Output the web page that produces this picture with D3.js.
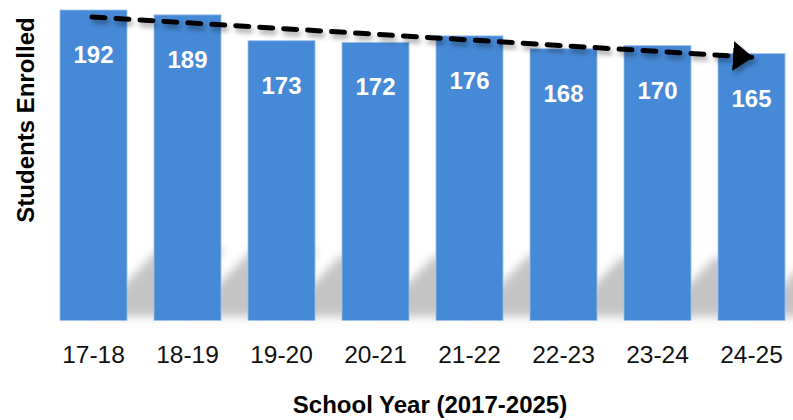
<!DOCTYPE html>
<html>
<head>
<meta charset="utf-8">
<script src="https://cdn.jsdelivr.net/npm/d3@7"></script>
<style>
  body { margin: 0; background: #fff; }
  svg { display: block; }
</style>
</head>
<body>
<div id="chart"></div>
<script>
// chart data
var years = ["17-18", "18-19", "19-20", "20-21", "21-22", "22-23", "23-24", "24-25"];
var enrolled = [192, 189, 173, 172, 176, 168, 170, 165];
var trendFrom = 192;
var trendTo = 165;

var svgWidth = 793;
var svgHeight = 420;
var baseY = 320.5;

var svg = d3.select("#chart")
    .append("svg")
    .attr("width", svgWidth)
    .attr("height", svgHeight);

var defs = svg.append("defs");

defs.append("filter")
    .attr("id", "soft")
    .attr("x", "-50%").attr("y", "-50%")
    .attr("width", "200%").attr("height", "200%")
    .append("feGaussianBlur")
    .attr("stdDeviation", 5);

defs.append("filter")
    .attr("id", "lineShadow")
    .attr("x", "-10%").attr("y", "-100%")
    .attr("width", "120%").attr("height", "300%")
    .append("feDropShadow")
    .attr("dx", 2).attr("dy", 4)
    .attr("stdDeviation", 2.5)
    .attr("flood-color", "#000")
    .attr("flood-opacity", 0.35);

defs.append("marker")
    .attr("id", "arrow")
    .attr("viewBox", "0 0 20 30")
    .attr("refX", 19).attr("refY", 15)
    .attr("markerUnits", "userSpaceOnUse")
    .attr("markerWidth", 20).attr("markerHeight", 30)
    .attr("orient", "auto")
    .append("path")
    .attr("d", "M0,0 L20,15 L0,30 Z")
    .attr("fill", "#000");

var data = years.map(function(y, i) { return { year: y, value: enrolled[i] }; });

var xScale = d3.scaleBand()
    .domain(years)
    .range([46.5, 798.5])
    .paddingInner(0.287)
    .paddingOuter(0.1435);

var yScale = d3.scaleLinear()
    .domain([0, 192])
    .range([baseY, 10]);

var bw = xScale.bandwidth();

// perspective shadows behind the bars
svg.append("g")
    .attr("filter", "url(#soft)")
    .selectAll("polygon")
    .data(data)
    .enter()
    .append("polygon")
    .attr("points", function(d) {
        var xc = xScale(d.year) + bw / 2;
        var h = baseY - yScale(d.value);
        var sh = h * 0.23;
        var dx = h * 0.21;
        return [[xc, baseY - 4], [xc + bw, baseY - 4], [xc + bw + dx, baseY - sh], [xc + dx, baseY - sh]]
            .map(function(p) { return p.join(","); }).join(" ");
    })
    .attr("fill", "#c4c4c4");

svg.append("g")
    .selectAll("rect")
    .data(data)
    .enter()
    .append("rect")
    .attr("x", d => xScale(d.year))
    .attr("y", d => yScale(d.value))
    .attr("width", bw)
    .attr("height", d => baseY - yScale(d.value))
    .attr("fill", "#4689d7")
    .attr("stroke", "#9fc2ec")
    .attr("stroke-width", 0.8);

svg.append("g")
    .selectAll("text")
    .data(data)
    .enter()
    .append("text")
    .attr("x", d => xScale(d.year) + bw / 2)
    .attr("y", d => yScale(d.value) + 53)
    .attr("text-anchor", "middle")
    .attr("font-family", "Liberation Sans, Arial, sans-serif")
    .attr("font-weight", "bold")
    .attr("font-size", "24px")
    .attr("fill", "#fff")
    .text(d => d.value);

var xAxis = d3.axisBottom(xScale).tickSize(0).tickPadding(0);
var axisG = svg.append("g")
    .attr("transform", "translate(0," + baseY + ")")
    .call(xAxis);
axisG.select(".domain").remove();
axisG.selectAll("text")
    .attr("y", 42.5)
    .attr("dy", null)
    .attr("font-family", "Liberation Sans, Arial, sans-serif")
    .attr("font-size", "24.5px")
    .attr("fill", "#111");

// trend arrow
var first = years[0], last = years[years.length - 1];
svg.append("line")
    .attr("x1", xScale(first) + bw / 2 - 1.5)
    .attr("y1", yScale(trendFrom) + 7)
    .attr("x2", xScale(last) + bw / 2 + 0.5)
    .attr("y2", yScale(trendTo) + 3.5)
    .attr("stroke", "#000")
    .attr("stroke-width", 5)
    .attr("stroke-linecap", "round")
    .attr("stroke-dasharray", "13,11")
    .attr("marker-end", "url(#arrow)")
    .attr("filter", "url(#lineShadow)");

svg.append("text")
    .attr("transform", "translate(34,120) rotate(-90)")
    .attr("text-anchor", "middle")
    .attr("font-family", "Liberation Sans, Arial, sans-serif")
    .attr("font-weight", "bold")
    .attr("font-size", "24px")
    .attr("fill", "#000")
    .text("Students Enrolled");

svg.append("text")
    .attr("x", 430)
    .attr("y", 413)
    .attr("text-anchor", "middle")
    .attr("font-family", "Liberation Sans, Arial, sans-serif")
    .attr("font-weight", "bold")
    .attr("font-size", "24px")
    .attr("fill", "#000")
    .text("School Year (2017-2025)");
</script>
</body>
</html>
